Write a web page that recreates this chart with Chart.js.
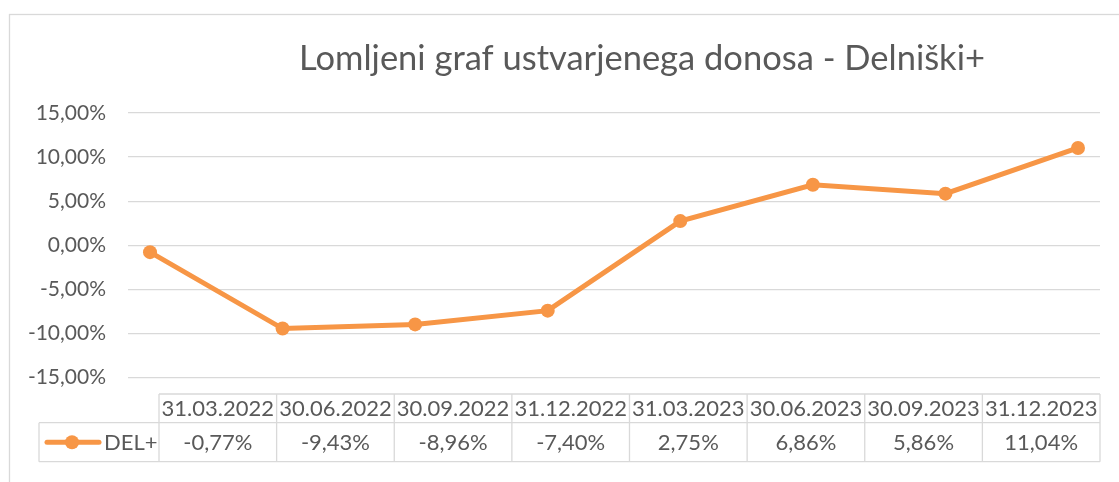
<!DOCTYPE html>
<html>
<head>
<meta charset="utf-8">
<script src="https://cdn.jsdelivr.net/npm/chart.js@4.4.0/dist/chart.umd.min.js"></script>
<style>
  html, body { margin: 0; padding: 0; background: #ffffff; }
  #wrap { width: 1119px; height: 482px; position: relative; }
</style>
</head>
<body>
<div id="wrap"><canvas id="c" width="1119" height="482"></canvas></div>
<script>
const chartTitle = 'Lomljeni graf ustvarjenega donosa - Delniški+';
const categories = ['31.03.2022','30.06.2022','30.09.2022','31.12.2022','31.03.2023','30.06.2023','30.09.2023','31.12.2023'];
const seriesName = 'DEL+';
const delValues = [-0.77, -9.43, -8.96, -7.40, 2.75, 6.86, 5.86, 11.04];
const yTicks = [-15, -10, -5, 0, 5, 10, 15];

const ORANGE = '#F79646';
const TEXT = '#595959';
const GRID = '#d9d9d9';
const FONT = 'Lato, "Open Sans", sans-serif';

function pct(v) {
  return v.toFixed(2).replace('.', ',') + '%';
}

const framePlugin = {
  id: 'frameAndTable',
  beforeDraw(chart) {
    const ctx = chart.ctx;
    ctx.save();
    ctx.fillStyle = '#ffffff';
    ctx.fillRect(0, 0, chart.width, chart.height);
    ctx.strokeStyle = GRID;
    ctx.lineWidth = 1.3;
    ctx.strokeRect(9.5, 14.5, 1140, 500);
    ctx.restore();
  },
  afterDraw(chart) {
    const ctx = chart.ctx;
    const area = chart.chartArea;
    ctx.save();
    // title
    ctx.fillStyle = TEXT;
    ctx.font = '34.5px ' + FONT;
    ctx.textAlign = 'center';
    ctx.textBaseline = 'middle';
    ctx.fillText(chartTitle, 642, 59);

    // data table
    const tLeft = 159, tRight = area.right;
    const legLeft = 39;
    const r0 = 394, r1 = 422.7, r2 = 461.7;
    const n = categories.length;
    const cw = (tRight - tLeft) / n;
    ctx.strokeStyle = GRID;
    ctx.lineWidth = 1.3;
    ctx.beginPath();
    ctx.moveTo(tLeft, r0); ctx.lineTo(tRight, r0);
    ctx.moveTo(legLeft, r1); ctx.lineTo(tRight, r1);
    ctx.moveTo(legLeft, r2); ctx.lineTo(tRight, r2);
    ctx.moveTo(legLeft, r1); ctx.lineTo(legLeft, r2);
    for (let i = 0; i <= n; i++) {
      const x = tLeft + i * cw;
      ctx.moveTo(x, r0); ctx.lineTo(x, r2);
    }
    ctx.stroke();

    ctx.fillStyle = TEXT;
    ctx.font = '22px ' + FONT;
    ctx.textAlign = 'center';
    ctx.textBaseline = 'middle';
    for (let i = 0; i < n; i++) {
      const cx = tLeft + (i + 0.5) * cw;
      ctx.fillText(categories[i], cx, (r0 + r1) / 2 + 1);
      ctx.fillText(pct(delValues[i]), cx, (r1 + r2) / 2 + 1);
    }
    // legend key
    const ly = (r1 + r2) / 2;
    ctx.strokeStyle = ORANGE;
    ctx.lineWidth = 5;
    ctx.lineCap = 'round';
    ctx.beginPath();
    ctx.moveTo(47, ly); ctx.lineTo(99, ly);
    ctx.stroke();
    ctx.fillStyle = ORANGE;
    ctx.beginPath();
    ctx.arc(72, ly, 7, 0, Math.PI * 2);
    ctx.fill();
    ctx.fillStyle = TEXT;
    ctx.textAlign = 'left';
    ctx.fillText(seriesName, 104, ly + 1);
    ctx.restore();
  }
};

new Chart(document.getElementById('c'), {
  type: 'line',
  data: {
    datasets: [{
      label: seriesName,
      data: delValues.map((v, i) => ({ x: i, y: v })),
      borderColor: ORANGE,
      backgroundColor: ORANGE,
      borderWidth: 5,
      pointRadius: 7,
      pointHoverRadius: 7,
      pointBackgroundColor: ORANGE,
      pointBorderColor: ORANGE,
      pointBorderWidth: 0,
      tension: 0,
      fill: false
    }]
  },
  options: {
    responsive: false,
    animation: false,
    events: [],
    layout: { padding: { left: 0, right: 19, top: 113, bottom: 104.3 } },
    plugins: {
      legend: { display: false },
      title: { display: false },
      tooltip: { enabled: false }
    },
    scales: {
      x: {
        type: 'linear',
        display: false,
        min: -0.166,
        max: categories.length - 1 + 0.166
      },
      y: {
        min: -15,
        max: 15,
        afterBuildTicks(scale) { scale.ticks = yTicks.map(v => ({ value: v })); },
        afterFit(scale) { scale.width = 128; },
        border: { display: false },
        grid: { color: GRID, lineWidth: 1.3, drawTicks: false },
        ticks: {
          color: TEXT,
          font: { family: FONT, size: 21 },
          padding: 22,
          callback: v => pct(v)
        }
      }
    }
  },
  plugins: [framePlugin]
});
</script>
</body>
</html>
